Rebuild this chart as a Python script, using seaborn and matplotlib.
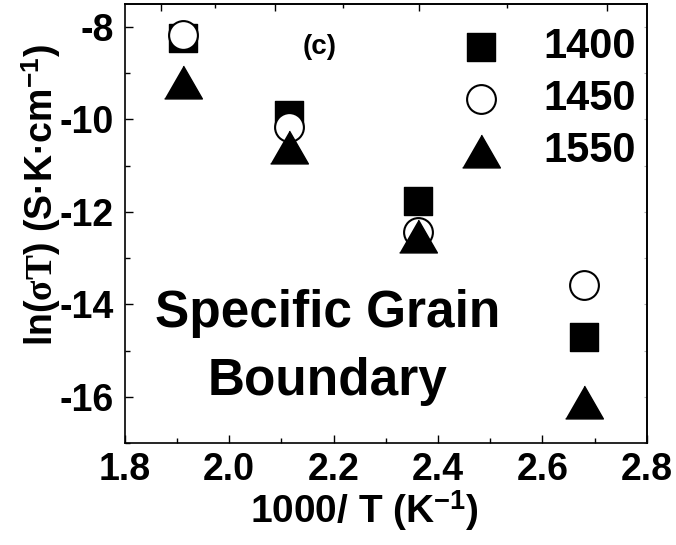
import matplotlib
matplotlib.use('Agg')
import matplotlib.pyplot as plt
import seaborn as sns
import pandas as pd
from matplotlib.ticker import MultipleLocator, FixedLocator, NullFormatter

# ---- data ----
inv_T = [1.912, 2.114, 2.3625, 2.680]
ln_sigT_1400 = [-8.25, -9.90, -11.76, -14.71]
ln_sigT_1450 = [-8.17, -10.16, -12.44, -13.59]
ln_sigT_1550 = [-9.20, -10.59, -12.52, -16.11]
series_labels = ['1400', '1450', '1550']
x_ticks = [1.8, 2.0, 2.2, 2.4, 2.6, 2.8]
y_ticks = [-8, -10, -12, -14, -16]

sns.set_theme(style='ticks')
plt.rcParams['font.family'] = ['Liberation Sans', 'DejaVu Sans']
plt.rcParams['font.weight'] = 'bold'
plt.rcParams['text.color'] = 'black'
plt.rcParams['axes.labelcolor'] = 'black'
plt.rcParams['xtick.color'] = 'black'
plt.rcParams['ytick.color'] = 'black'
plt.rcParams['axes.edgecolor'] = 'black'
plt.rcParams['mathtext.fontset'] = 'custom'
plt.rcParams['mathtext.rm'] = 'Liberation Serif'
plt.rcParams['mathtext.bf'] = 'Liberation Sans:bold'
plt.rcParams['mathtext.it'] = 'Liberation Serif:italic'
plt.rcParams['axes.unicode_minus'] = False

df = pd.DataFrame({
    'x': inv_T * 3,
    'y': ln_sigT_1400 + ln_sigT_1450 + ln_sigT_1550,
    'series': [series_labels[0]] * 4 + [series_labels[1]] * 4 + [series_labels[2]] * 4,
})

fig = plt.figure(figsize=(6.76, 5.45), dpi=100)
ax = fig.add_axes([0.1845, 0.1866, 0.7722, 0.8061])

tri = [(-1, -0.87), (1, -0.87), (0, 0.87)]
styles = {
    '1400': dict(marker='s', s=390, color='black', edgecolor='black', linewidth=1.0),
    '1450': dict(marker='o', s=430, color='white', edgecolor='black', linewidth=1.5),
    '1550': dict(marker=tri, s=740, color='black', edgecolor='black', linewidth=1.0),
}
for lab in series_labels:
    sub = df[df['series'] == lab]
    sns.scatterplot(data=sub, x='x', y='y', ax=ax, label=lab, zorder=3, **styles[lab])

ax.set_xlim(1.8, 2.8)
ax.set_ylim(-17.0, -7.51)
ax.set_xticks(x_ticks)
ax.set_xticklabels([f'{v:.1f}' for v in x_ticks])
ax.set_yticks(y_ticks)
ax.set_yticklabels([str(v) for v in y_ticks])
ax.xaxis.set_minor_locator(MultipleLocator(0.1))
ax.yaxis.set_minor_locator(MultipleLocator(1))

for sp in ax.spines.values():
    sp.set_linewidth(1.2)
    sp.set_color('black')

ax.tick_params(axis='both', which='major', direction='in', length=6, width=1.0,
               labelsize=27, color='black')
ax.tick_params(axis='both', which='minor', direction='in', length=3.5, width=1.0, color='black')
ax.tick_params(axis='x', which='major', pad=6)
ax.tick_params(axis='y', which='major', pad=8)
ax.tick_params(axis='both', which='both', top=False, right=False)
for lab in ax.get_xticklabels() + ax.get_yticklabels():
    lab.set_fontweight('bold')

# top axis: reciprocal scale
sec = ax.secondary_xaxis('top', functions=(lambda x: 1000.0 / x, lambda t: 1000.0 / t))
sec.xaxis.set_major_locator(FixedLocator([535, 479, 423, 367]))
sec.xaxis.set_minor_locator(FixedLocator([507, 451, 395]))
sec.xaxis.set_major_formatter(NullFormatter())
sec.tick_params(which='major', direction='in', length=5, width=1.0, colors='black')
sec.tick_params(which='minor', direction='in', length=2.7, width=1.0, colors='black')
sec.spines['top'].set_linewidth(1.2)

# right axis: faint short ticks
secy = ax.secondary_yaxis('right')
secy.yaxis.set_major_locator(MultipleLocator(1))
secy.yaxis.set_major_formatter(NullFormatter())
secy.tick_params(which='major', direction='in', length=2, width=0.8, colors='#b0b0b0')
secy.spines['right'].set_linewidth(1.2)
secy.spines['right'].set_color('black')

ax.set_xlabel('1000/ T (K$^{\\mathbf{-1}}$)', fontsize=28, fontweight='bold')
ax.set_ylabel('ln($\\mathrm{\\sigma T}$) (S·K·cm$^{\\mathbf{-1}}$)', fontsize=27, fontweight='bold')
ax.xaxis.set_label_coords(0.46, -0.205)
ax.xaxis.label.set_va('bottom')
ax.yaxis.set_label_coords(-0.118, 0.565)

ax.text(0.374, 0.903, '(c)', transform=ax.transAxes, fontsize=20, fontweight='bold',
        ha='center', va='center')
ax.text(0.3895, 0.2654, 'Specific Grain', transform=ax.transAxes, fontsize=37,
        fontweight='bold', ha='center', va='baseline')
ax.text(0.3895, 0.110, 'Boundary', transform=ax.transAxes, fontsize=37,
        fontweight='bold', ha='center', va='baseline')

leg = ax.legend(loc='center', bbox_to_anchor=(0.811, 0.784), frameon=False,
                fontsize=30, handlelength=1.0, handletextpad=1.0, borderpad=0,
                labelspacing=0.28, markerscale=1.0)
for t in leg.get_texts():
    t.set_fontweight('bold')
    t.set_color('black')

fig.savefig('out.png', dpi=100)
